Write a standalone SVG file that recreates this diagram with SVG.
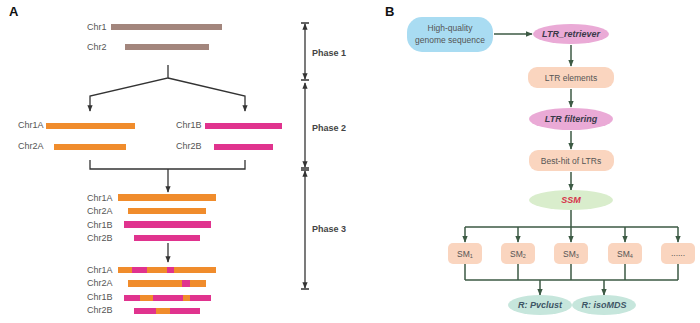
<svg xmlns="http://www.w3.org/2000/svg" width="700" height="323" viewBox="0 0 700 323">
<style>
.lbl{font-family:"Liberation Sans",Arial,sans-serif;font-size:9px;fill:#555}
.ph{font-family:"Liberation Sans",Arial,sans-serif;font-size:9px;font-weight:bold;fill:#444}
.pn{font-family:"Liberation Sans",Arial,sans-serif;font-size:13px;font-weight:bold;fill:#111}
.br{fill:#a3867d}
.or{fill:#f08c2c}
.pk{fill:#e0338e}
.ln{stroke:#333;stroke-width:1.3;fill:none}
.gl{stroke:#3c5a44;stroke-width:1.5;fill:none}
.bt{font-family:"Liberation Sans",Arial,sans-serif;font-size:8.5px;fill:#555;text-anchor:middle}
.it{font-family:"Liberation Sans",Arial,sans-serif;font-size:9px;font-weight:bold;font-style:italic;fill:#3a3a4a;text-anchor:middle}
.peach{fill:#fad5bf}
</style>
<defs>
<marker id="ah" viewBox="0 0 10 10" refX="9" refY="5" markerWidth="5" markerHeight="5" orient="auto"><path d="M0,1 L10,5 L0,9 z" fill="#333"/></marker>
<marker id="gh" viewBox="0 0 10 10" refX="9" refY="5" markerWidth="4.5" markerHeight="4.5" orient="auto"><path d="M0,1 L10,5 L0,9 z" fill="#3c5a44"/></marker>
</defs>
<text class="pn" x="9" y="16">A</text>
<text class="pn" x="385" y="16">B</text>

<g id="phase1a">
<text class="lbl" x="87" y="30">Chr1</text><rect class="br" x="111" y="24" width="111" height="6"/>
<text class="lbl" x="87" y="50">Chr2</text><rect class="br" x="125" y="44" width="84" height="6"/>
</g>
<g id="phase2a">
<text class="lbl" x="18" y="128">Chr1A</text><rect class="or" x="46" y="123" width="89" height="6"/>
<text class="lbl" x="18" y="149">Chr2A</text><rect class="or" x="54" y="144" width="72" height="6"/>
<text class="lbl" x="176" y="128">Chr1B</text><rect class="pk" x="205" y="123" width="77" height="6"/>
<text class="lbl" x="176" y="149">Chr2B</text><rect class="pk" x="214" y="144" width="59" height="6"/>
</g>
<g id="phase3a">
<text class="lbl" x="87" y="201">Chr1A</text><rect class="or" x="118" y="194" width="98" height="7"/>
<text class="lbl" x="87" y="214">Chr2A</text><rect class="or" x="128" y="208" width="78" height="6"/>
<text class="lbl" x="87" y="228">Chr1B</text><rect class="pk" x="124" y="221" width="87" height="7"/>
<text class="lbl" x="87" y="241">Chr2B</text><rect class="pk" x="134" y="235" width="66" height="6"/>
</g>
<g id="phase3b">
<text class="lbl" x="87" y="273">Chr1A</text><rect class="or" x="118" y="267" width="98" height="6"/><rect class="pk" x="132" y="267" width="15" height="6"/><rect class="pk" x="167" y="267" width="7" height="6"/>
<text class="lbl" x="87" y="286">Chr2A</text><rect class="or" x="128" y="280" width="78" height="7"/><rect class="pk" x="182" y="280" width="8" height="7"/>
<text class="lbl" x="87" y="300">Chr1B</text><rect class="pk" x="124" y="295" width="87" height="6"/><rect class="or" x="140" y="295" width="13" height="6"/><rect class="or" x="183" y="295" width="7" height="6"/>
<text class="lbl" x="87" y="313">Chr2B</text><rect class="pk" x="134" y="308" width="66" height="6"/><rect class="or" x="156" y="308" width="14" height="6"/>
</g>

<g id="phases">
<text class="ph" x="312" y="56">Phase 1</text>
<text class="ph" x="312" y="131">Phase 2</text>
<text class="ph" x="312" y="232">Phase 3</text>
</g>

<g id="connectors">
<path class="ln" d="M168,65 V78 L90,96 V111" marker-end="url(#ah)"/>
<path class="ln" d="M168,78 L245,96 V111" marker-end="url(#ah)"/>
<path class="ln" d="M90,160 V169 H245 V160"/>
<path class="ln" d="M168,169 V192" marker-end="url(#ah)"/>
<path class="ln" d="M168,243 V262" marker-end="url(#ah)"/>
<path class="ln" d="M301,23 H309 M301,80 H309 M301,168 H309 M301,170 H309 M301,289 H309"/>
<path class="ln" d="M305,51 V24" marker-end="url(#ah)"/>
<path class="ln" d="M305,51 V79" marker-end="url(#ah)"/>
<path class="ln" d="M305,130 V83" marker-end="url(#ah)"/>
<path class="ln" d="M305,130 V167" marker-end="url(#ah)"/>
<path class="ln" d="M305,230 V171" marker-end="url(#ah)"/>
<path class="ln" d="M305,230 V288" marker-end="url(#ah)"/>
<path class="gl" d="M494,34 H532" marker-end="url(#gh)"/>
<path class="gl" d="M571,45 V66" marker-end="url(#gh)"/>
<path class="gl" d="M571,89 V107" marker-end="url(#gh)"/>
<path class="gl" d="M571,131 V149" marker-end="url(#gh)"/>
<path class="gl" d="M571,172 V190" marker-end="url(#gh)"/>
<path class="gl" d="M571,210 V227 M465,227 H678"/>
<path class="gl" d="M465,227 V242" marker-end="url(#gh)"/>
<path class="gl" d="M518,227 V242" marker-end="url(#gh)"/>
<path class="gl" d="M571,227 V242" marker-end="url(#gh)"/>
<path class="gl" d="M625,227 V242" marker-end="url(#gh)"/>
<path class="gl" d="M678,227 V242" marker-end="url(#gh)"/>
<path class="gl" d="M465,264 V280 M518,264 V280 M571,264 V280 M625,264 V280 M678,264 V280 M465,280 H678"/>
<path class="gl" d="M540,280 V295" marker-end="url(#gh)"/>
<path class="gl" d="M604,280 V295" marker-end="url(#gh)"/>
</g>

<g id="genome"><rect x="407" y="17" width="86" height="35" rx="15" fill="#a9dcf2"/>
<text class="bt" x="450" y="31">High-quality</text><text class="bt" x="450" y="43">genome sequence</text></g>
<g id="ltr_retriever"><ellipse cx="571" cy="34" rx="38" ry="10" fill="#eaaad6"/><text class="it" x="571" y="37">LTR_retriever</text></g>
<g id="ltr_elements"><rect class="peach" x="528" y="67" width="86" height="21" rx="9"/><text class="bt" x="571" y="81">LTR elements</text></g>
<g id="ltr_filtering"><ellipse cx="571" cy="119" rx="42" ry="11" fill="#eaaad6"/><text class="it" x="571" y="122">LTR filtering</text></g>
<g id="besthit"><rect class="peach" x="529" y="150" width="85" height="21" rx="9"/><text class="bt" x="571" y="164">Best-hit of LTRs</text></g>
<g id="ssm"><ellipse cx="571" cy="200" rx="42" ry="10" fill="#d9edcc"/><text class="it" x="571" y="203" style="fill:#d6334a">SSM</text></g>
<g id="sm1"><rect class="peach" x="448" y="243" width="34" height="21" rx="5"/><text class="bt" x="465" y="257">SM<tspan font-size="5.5" dy="1">1</tspan></text></g>
<g id="sm2"><rect class="peach" x="501" y="243" width="34" height="21" rx="5"/><text class="bt" x="518" y="257">SM<tspan font-size="5.5" dy="1">2</tspan></text></g>
<g id="sm3"><rect class="peach" x="554" y="243" width="34" height="21" rx="5"/><text class="bt" x="571" y="257">SM<tspan font-size="5.5" dy="1">3</tspan></text></g>
<g id="sm4"><rect class="peach" x="608" y="243" width="34" height="21" rx="5"/><text class="bt" x="625" y="257">SM<tspan font-size="5.5" dy="1">4</tspan></text></g>
<g id="smn"><rect class="peach" x="661" y="243" width="34" height="21" rx="5"/><text class="bt" x="678" y="256">......</text></g>
<g id="pvclust"><ellipse cx="540" cy="305" rx="32" ry="10" fill="#c6e6dc"/><text class="it" x="540" y="308" style="fill:#3e5666">R: Pvclust</text></g>
<g id="isomds"><ellipse cx="604" cy="305" rx="32" ry="10" fill="#c6e6dc"/><text class="it" x="604" y="308" style="fill:#3e5666">R: isoMDS</text></g>
</svg>
